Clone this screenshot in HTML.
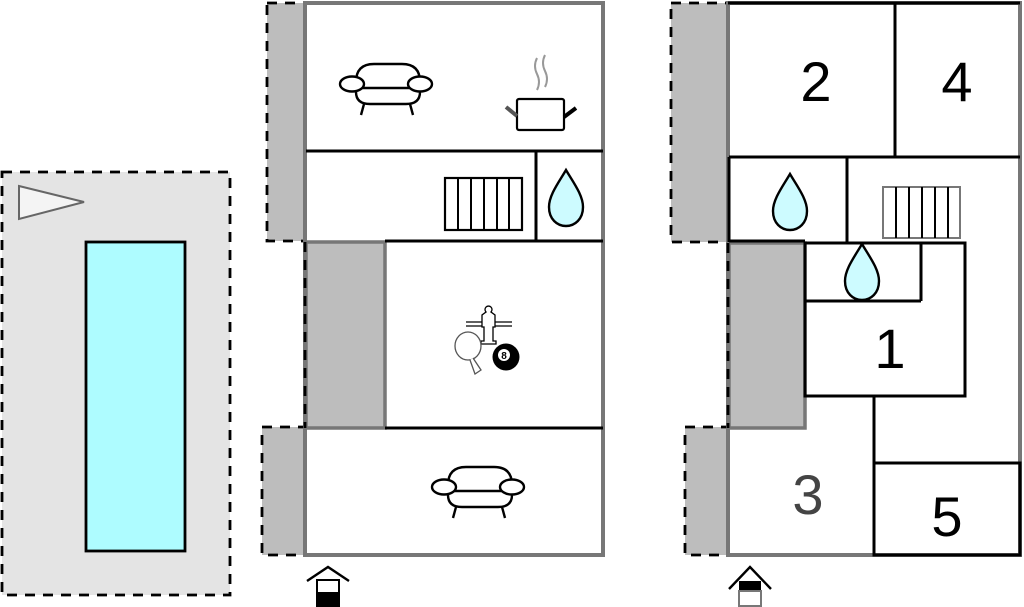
<!DOCTYPE html>
<html><head><meta charset="utf-8"><style>html,body{margin:0;padding:0;background:#fff;}svg{display:block}</style></head>
<body>
<svg width="1024" height="607" viewBox="0 0 1024 607" xmlns="http://www.w3.org/2000/svg" font-family="Liberation Sans, sans-serif">
<defs>
<g id="sofa" fill="#fff" stroke="#000" stroke-width="2.4">
  <line x1="24" y1="40" x2="21" y2="51"/><line x1="70" y1="40" x2="73" y2="51"/>
  <path d="M16,18 Q16,0 34,0 L62,0 Q80,0 80,18 L80,28 Q80,40 66,40 L30,40 Q16,40 16,28 Z"/>
  <line x1="22" y1="24" x2="74" y2="24"/>
  <ellipse cx="12" cy="20" rx="12" ry="7.5"/><ellipse cx="80" cy="20" rx="12" ry="7.5"/>
</g>
<g id="drop"><path d="M17,0 C10,12 0,25 0,37 C0,49 8,56 17,56 C26,56 34,49 34,37 C34,25 24,12 17,0 Z" fill="#cdfbff" stroke="#000" stroke-width="2.4"/></g>
</defs>

<!-- pool area -->
<rect x="2" y="172" width="228" height="423" fill="#e4e4e4" stroke="#000" stroke-width="2.8" stroke-dasharray="10,8"/>
<polygon points="19,186 84,202 19,219" fill="#f4f4f4" stroke="#666" stroke-width="2"/>
<rect x="86" y="242" width="99" height="309" fill="#aefcff" stroke="#000" stroke-width="2.8"/>

<!-- Plan 1 -->
<rect x="267" y="3" width="38" height="238" fill="#bdbdbd" stroke="#000" stroke-width="2.8" stroke-dasharray="10,8"/>
<rect x="262" y="427" width="43" height="128" fill="#bdbdbd" stroke="#000" stroke-width="2.8" stroke-dasharray="10,8"/>
<rect x="305" y="3" width="298" height="552" fill="#fff" stroke="#777" stroke-width="4"/>
<rect x="306" y="242" width="79" height="186" fill="#bdbdbd" stroke="#777" stroke-width="3.5"/>
<line x1="305" y1="242" x2="305" y2="428" stroke="#000" stroke-width="2.8" stroke-dasharray="10,8"/>
<g stroke="#000" stroke-width="3">
<line x1="306" y1="151" x2="603" y2="151"/>
<line x1="536" y1="151" x2="536" y2="241"/>
<line x1="385" y1="241" x2="603" y2="241"/>
<line x1="385" y1="428" x2="603" y2="428"/>
</g>
<use href="#sofa" x="340" y="64"/>
<use href="#sofa" x="432" y="467"/>
<!-- pot -->
<path d="M537,58 q-4,8 0,16 q4,8 0,16" fill="none" stroke="#999" stroke-width="2"/>
<path d="M545,55 q-4,8 0,16 q4,8 0,16" fill="none" stroke="#999" stroke-width="2"/>
<rect x="517" y="99" width="47" height="31" rx="2" fill="#fff" stroke="#000" stroke-width="2.2"/>
<line x1="506" y1="107" x2="517" y2="116" stroke="#555" stroke-width="4"/>
<line x1="576" y1="108" x2="564" y2="117" stroke="#000" stroke-width="4"/>
<!-- radiator -->
<rect x="445" y="178" width="77" height="52" fill="#fff" stroke="#000" stroke-width="2.2"/>
<g stroke="#000" stroke-width="2"><line x1="458" y1="178" x2="458" y2="230"/><line x1="471" y1="178" x2="471" y2="230"/><line x1="484" y1="178" x2="484" y2="230"/><line x1="497" y1="178" x2="497" y2="230"/><line x1="509" y1="178" x2="509" y2="230"/></g>
<use href="#drop" x="549" y="170"/>
<!-- game icons -->
<line x1="466" y1="322" x2="512" y2="322" stroke="#000" stroke-width="1.2"/>
<line x1="466" y1="326" x2="512" y2="326" stroke="#000" stroke-width="1.2"/>
<path d="M486,312 a3.5,3.5 0 1 1 5,0 l4,3 v12 h-2 v14 h3 v3 h-15 v-3 h3 v-14 h-2 v-12 z" fill="#fff" stroke="#000" stroke-width="1.3"/>
<ellipse cx="468" cy="346" rx="13" ry="14" fill="#fff" stroke="#555" stroke-width="1.3"/>
<path d="M473,358 l8,12 l-6,4 l-5,-14" fill="#fff" stroke="#555" stroke-width="1.3"/>
<circle cx="506" cy="357" r="13.5" fill="#000"/>
<circle cx="504" cy="355" r="6" fill="#fff"/>
<text x="504" y="359" font-size="10" font-weight="bold" text-anchor="middle">8</text>
<!-- entrance 1 -->
<path d="M307,581 L328,567 L349,581" fill="none" stroke="#000" stroke-width="2.4"/>
<rect x="317" y="580" width="22" height="13" fill="#fff" stroke="#000" stroke-width="2"/>
<rect x="316" y="593" width="24" height="14" fill="#000"/>

<!-- Plan 2 -->
<rect x="671" y="3" width="57" height="239" fill="#bdbdbd" stroke="#000" stroke-width="2.8" stroke-dasharray="10,8"/>
<rect x="685" y="427" width="43" height="128" fill="#bdbdbd" stroke="#000" stroke-width="2.8" stroke-dasharray="10,8"/>
<rect x="728" y="3" width="292" height="552" fill="#fff" stroke="#777" stroke-width="4"/>
<rect x="729" y="243" width="76" height="185" fill="#bdbdbd" stroke="#777" stroke-width="3.5"/>
<line x1="728" y1="243" x2="728" y2="428" stroke="#000" stroke-width="2.8" stroke-dasharray="10,8"/>
<g stroke="#000" stroke-width="3" fill="none">
<line x1="728" y1="3" x2="1020" y2="3"/>
<line x1="729" y1="157" x2="1020" y2="157"/>
<line x1="895" y1="3" x2="895" y2="157"/>
<line x1="729" y1="157" x2="729" y2="242"/>
<line x1="847" y1="157" x2="847" y2="242"/>
<line x1="729" y1="241" x2="805" y2="241"/>
<rect x="805" y="243" width="160" height="153"/>
<line x1="805" y1="301" x2="921" y2="301"/>
<line x1="921" y1="243" x2="921" y2="301"/>
<line x1="874" y1="396" x2="874" y2="555"/>
<rect x="874" y="463" width="146" height="92"/>
</g>
<!-- radiator 2 -->
<rect x="883" y="187" width="77" height="51" fill="#fff" stroke="#777" stroke-width="2"/>
<g stroke="#000" stroke-width="2"><line x1="896" y1="187" x2="896" y2="238"/><line x1="909" y1="187" x2="909" y2="238"/><line x1="922" y1="187" x2="922" y2="238"/><line x1="935" y1="187" x2="935" y2="238"/><line x1="948" y1="187" x2="948" y2="238"/></g>
<use href="#drop" x="773" y="174"/>
<use href="#drop" x="845" y="244"/>
<g font-size="56" text-anchor="middle" fill="#000">
<text x="816" y="101">2</text>
<text x="957" y="101">4</text>
<text x="890" y="368">1</text>
<text x="808" y="514" fill="#444">3</text>
<text x="947" y="536">5</text>
</g>
<!-- entrance 2 -->
<path d="M729,589 L750,567 L771,589" fill="none" stroke="#000" stroke-width="2.4"/>
<rect x="739" y="581" width="22" height="10" fill="#000"/>
<rect x="739" y="591" width="22" height="15" fill="#fff" stroke="#777" stroke-width="2"/>
</svg>
</body></html>
